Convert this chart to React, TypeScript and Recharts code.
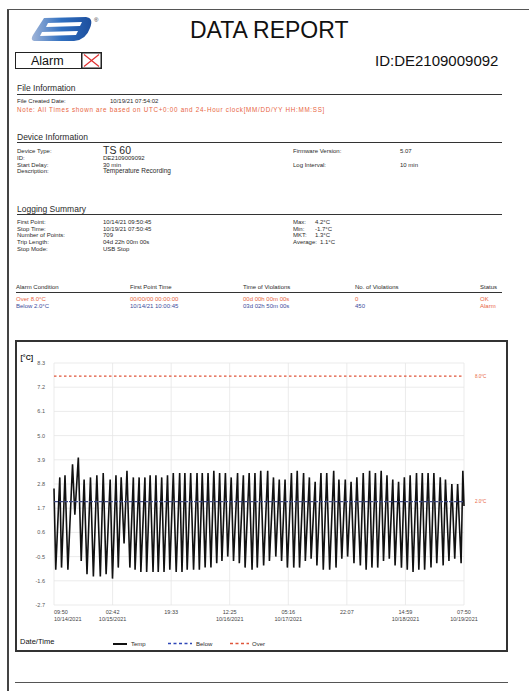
import { CartesianGrid, Line, LineChart, ReferenceLine, XAxis, YAxis } from "recharts";

// minutes after the first point (10/14/21 09:50:45), read at each peak / trough
const tempMinutes = [
  0, 30, 100, 130, 190, 240, 320, 360, 420, 470,
  520, 570, 630, 680, 740, 800, 850, 900, 970, 1010,
  1070, 1110, 1160, 1210, 1260, 1310, 1370, 1400, 1470, 1500,
  1570, 1600, 1660, 1710, 1760, 1800, 1860, 1900, 1960, 2000,
  2060, 2110, 2170, 2210, 2260, 2300, 2360, 2410, 2470, 2510,
  2560, 2610, 2660, 2710, 2760, 2810, 2860, 2900, 2960, 3000,
  3060, 3100, 3170, 3200, 3270, 3300, 3370, 3420, 3470, 3510,
  3570, 3620, 3690, 3720, 3790, 3830, 3890, 3930, 3990, 4030,
  4100, 4140, 4200, 4240, 4310, 4340, 4410, 4440, 4510, 4540,
  4610, 4650, 4710, 4760, 4830, 4870, 4920, 4970, 5030, 5070,
  5130, 5180, 5230, 5290, 5340, 5390, 5450, 5490, 5550, 5590,
  5650, 5690, 5750, 5790, 5850, 5890, 5950, 6000, 6050, 6100,
  6150, 6200, 6260, 6300, 6360, 6400, 6460, 6510, 6560, 6610,
  6670, 6720, 6760, 6820, 6870, 6920, 6970, 7030, 7060, 7080,
];

const tempValues = [
  2.6, -1.1, 3.1, -1.0, 3.2, -1.1, 3.7, 1.4, 4.0, -0.7,
  3.0, -1.3, 3.1, -1.4, 3.2, -1.4, 3.3, -1.3, 3.0, -1.5,
  3.2, -1.0, 3.1, 0.1, 3.4, -1.0, 3.1, -1.1, 3.1, -1.2,
  3.1, -1.2, 3.2, -1.2, 3.2, -1.2, 3.1, -1.2, 3.2, -1.1,
  3.3, -1.2, 3.3, -1.2, 3.3, -1.1, 3.3, -1.1, 3.3, -1.1,
  3.3, -1.0, 3.3, -1.0, 3.4, -0.8, 3.3, -0.7, 3.3, -0.5,
  3.1, -0.7, 3.3, -0.8, 3.2, -1.0, 3.3, -1.1, 3.3, -1.0,
  3.4, -0.9, 3.4, -0.7, 3.1, -0.5, 3.0, -0.7, 3.0, -1.0,
  3.3, -1.0, 3.4, -1.0, 3.3, -0.7, 3.1, -0.6, 2.9, -0.9,
  3.3, -1.1, 3.3, -1.1, 3.4, -1.0, 3.0, -0.6, 3.0, -0.5,
  2.9, -0.8, 3.1, -0.9, 3.3, -1.1, 3.4, -1.0, 3.3, -1.0,
  3.4, -0.7, 3.2, -0.6, 3.0, -0.9, 2.9, -1.0, 3.1, -1.1,
  3.2, -1.2, 3.3, -1.1, 3.3, -1.1, 3.3, -1.0, 3.3, -0.8,
  3.1, -0.9, 3.0, -0.7, 2.8, -0.6, 2.8, -0.8, 3.4, 1.8,
];

const yTicks = [-2.7, -1.6, -0.5, 0.6, 1.7, 2.8, 3.9, 5.0, 6.1, 7.2, 8.3];
const xTickMinutes = [0, 1012, 2023, 3034, 4046, 5057, 6069, 7080];
const xTickTimes = ["09:50", "02:42", "19:33", "12:25", "05:16", "22:07", "14:59", "07:50"];
const xTickDates = ["10/14/2021", "10/15/2021", "", "10/16/2021", "10/17/2021", "", "10/18/2021", "10/19/2021"];

const belowLimit = 2.0;
const overLimitDrawn = 7.7; // where the 8.0°C line sits in the picture

const deviceRows = [
  ["Device Type:", "TS 60"],
  ["ID:", "DE2109009092"],
  ["Start Delay:", "30 min"],
  ["Description:", "Temperature Recording"],
];
const summaryRows = [
  ["First Point:", "10/14/21 09:50:45"],
  ["Stop Time:", "10/19/21 07:50:45"],
  ["Number of Points:", "709"],
  ["Trip Length:", "04d 22h 00m 00s"],
  ["Stop Mode:", "USB Stop"],
];
const summaryStats = [
  ["Max:", "4.2°C"],
  ["Min:", "-1.7°C"],
  ["MKT:", "1.3°C"],
  ["Average:", "1.1°C"],
];
const alarmHeaders = ["Alarm Condition", "First Point Time", "Time of Violations", "No. of Violations", "Status"];
const alarmOver = ["Over 8.0°C", "00/00/00 00:00:00", "00d 00h 00m 00s", "0", "OK"];
const alarmBelow = ["Below 2.0°C", "10/14/21 10:00:45", "03d 02h 50m 00s", "450", "Alarm"];

const FONT = "'Liberation Sans', Arial, sans-serif";
const ORANGE = "#e8663f";
const BLUE = "#3d4c9c";
const TEXT = "#2a2a2a";
const alarmCols = [16, 130, 243, 355, 480];

function T({ x, y, size = 6, color = TEXT, bold = false, spacing = 0, children }: any) {
  return (
    <div
      style={{
        position: "absolute",
        left: x,
        top: y,
        transform: "translateY(-50%)",
        fontSize: size,
        lineHeight: 1,
        color,
        fontWeight: bold ? 700 : 400,
        letterSpacing: spacing,
        whiteSpace: "nowrap",
      }}
    >
      {children}
    </div>
  );
}

function HLine({ x, y, w, h = 1.2, color = "#333" }: any) {
  return <div style={{ position: "absolute", left: x, top: y, width: w, height: h, background: color }} />;
}

function XTick({ x, y, payload, index }: any) {
  const i = xTickMinutes.indexOf(payload.value);
  const anchor = index === 0 ? "start" : "middle";
  return (
    <g>
      <text x={x} y={y + 6.5} textAnchor={anchor} dominantBaseline="central" fontSize={5.5} fill="#444" fontFamily={FONT}>
        {xTickTimes[i]}
      </text>
      <text x={x} y={y + 13.5} textAnchor={anchor} dominantBaseline="central" fontSize={5.5} fill="#444" fontFamily={FONT}>
        {xTickDates[i]}
      </text>
    </g>
  );
}

function YTick({ x, y, payload }: any) {
  return (
    <text x={x - 9} y={y} textAnchor="end" dominantBaseline="central" fontSize={5.5} fill="#555" fontFamily={FONT}>
      {Number(payload.value).toFixed(1)}
    </text>
  );
}

function limitLabel(text: string) {
  return ({ viewBox }: any) => (
    <text
      x={viewBox.x + viewBox.width + 11}
      y={viewBox.y}
      dominantBaseline="central"
      fontSize={4.5}
      fill={ORANGE}
      fontFamily={FONT}
    >
      {text}
    </text>
  );
}

function Logo() {
  return (
    <svg width={70} height={30} style={{ position: "absolute", left: 30, top: 14 }}>
      <defs>
        <linearGradient id="lg" x1="0" y1="0" x2="1" y2="0">
          <stop offset="0" stopColor="#9fb4d8" />
          <stop offset="0.5" stopColor="#2f6fc0" />
          <stop offset="1" stopColor="#1d4f9e" />
        </linearGradient>
      </defs>
      <path d="M14 4 L56 3 Q64 4 60 14 Q56 26 44 27 L4 27 Q0 26 3 21 Z" fill="url(#lg)" />
      <path d="M18 9 L52 8 L50 12 L16 13 Z" fill="#fff" />
      <path d="M12 18 L48 17 L46 21 L10 22 Z" fill="#fff" />
      <text x={64} y={8} fontSize={6} fill="#333" fontFamily={FONT}>®</text>
    </svg>
  );
}

export default function App() {
  const data = tempMinutes.map((m, i) => ({ minute: m, temp: tempValues[i] }));

  return (
    <div style={{ position: "absolute", left: 0, top: 0, width: 529, height: 691, background: "#fff", fontFamily: FONT, overflow: "hidden" }}>
      {/* page frame */}
      <div style={{ position: "absolute", left: 7, top: 9, width: 1.5, height: 682, background: "#444" }} />
      <HLine x={7} y={9} w={522} h={1.2} color="#555" />

      <Logo />
      <T x={190} y={30} size={23} color="#111">DATA REPORT</T>

      {/* alarm badge */}
      <div style={{ position: "absolute", left: 15, top: 52, width: 67, height: 17, border: "1.5px solid #222", boxSizing: "border-box" }} />
      <T x={31} y={61} size={12.5} color="#111">Alarm</T>
      <svg width={21} height={17} style={{ position: "absolute", left: 81, top: 52 }}>
        <rect x={0.75} y={0.75} width={19.5} height={15.5} fill="none" stroke="#222" strokeWidth={1.5} />
        <line x1={3} y1={2.5} x2={18} y2={14.5} stroke="#e03030" strokeWidth={1.2} />
        <line x1={18} y1={2.5} x2={3} y2={14.5} stroke="#e03030" strokeWidth={1.2} />
      </svg>
      <T x={375} y={60} size={15} color="#111">ID:DE2109009092</T>

      {/* File Information */}
      <T x={17} y={88} size={8.5}>File Information</T>
      <HLine x={17} y={93.5} w={485} />
      <T x={17} y={101} size={6}>File Created Date:</T>
      <T x={110} y={101} size={6}>10/19/21 07:54:02</T>
      <T x={17} y={110} size={6.3} spacing={0.7} color={ORANGE}>
        Note: All Times shown are based on UTC+0:00 and 24-Hour clock[MM/DD/YY HH:MM:SS]
      </T>

      {/* Device Information */}
      <T x={17} y={137} size={8.5}>Device Information</T>
      <HLine x={17} y={141.5} w={485} />
      {deviceRows.map(([k, v], i) => (
        <div key={k}>
          <T x={17} y={151 + i * 6.8} size={6}>{k}</T>
          <T x={103} y={i === 0 ? 149.5 : 151 + i * 6.8} size={i === 0 ? 10.5 : i === 3 ? 6.5 : 6}>{v}</T>
        </div>
      ))}
      <T x={293} y={151} size={6}>Firmware Version:</T>
      <T x={400} y={151} size={6}>5.07</T>
      <T x={293} y={164.6} size={6}>Log Interval:</T>
      <T x={400} y={164.6} size={6}>10 min</T>

      {/* Logging Summary */}
      <T x={17} y={208.5} size={8.5}>Logging Summary</T>
      <HLine x={17} y={213.5} w={485} />
      {summaryRows.map(([k, v], i) => (
        <div key={k}>
          <T x={17} y={221.7 + i * 6.8} size={6}>{k}</T>
          <T x={103} y={221.7 + i * 6.8} size={6}>{v}</T>
        </div>
      ))}
      {summaryStats.map(([k, v], i) => (
        <div key={k}>
          <T x={293} y={221.7 + i * 6.8} size={6}>{k}</T>
          <T x={i === 3 ? 320 : 315} y={221.7 + i * 6.8} size={6}>{v}</T>
        </div>
      ))}

      {/* Alarm table */}
      {alarmHeaders.map((h, i) => (
        <T key={h} x={alarmCols[i]} y={287} size={6}>{h}</T>
      ))}
      <HLine x={16} y={291.5} w={486} />
      {alarmOver.map((v, i) => (
        <T key={"o" + i} x={alarmCols[i]} y={299} size={6} color={ORANGE}>{v}</T>
      ))}
      {alarmBelow.map((v, i) => (
        <T key={"b" + i} x={alarmCols[i]} y={306} size={6} color={i === 4 ? ORANGE : BLUE}>{v}</T>
      ))}

      {/* chart box */}
      <div style={{ position: "absolute", left: 15, top: 340, width: 493, height: 312, border: "2px solid #333", boxSizing: "border-box" }}>
        <LineChart width={489} height={308} data={data} margin={{ top: 21, right: 42, left: 0, bottom: 0 }}>
          <CartesianGrid stroke="#e6e6e6" strokeWidth={0.8} />
          <XAxis
            dataKey="minute"
            type="number"
            domain={[0, 7080]}
            ticks={xTickMinutes}
            tick={<XTick />}
            tickSize={0}
            tickMargin={0}
            axisLine={false}
            tickLine={false}
            height={45}
            interval={0}
          />
          <YAxis
            type="number"
            domain={[-2.7, 8.3]}
            ticks={yTicks}
            tick={<YTick />}
            tickSize={0}
            tickMargin={0}
            axisLine={false}
            tickLine={false}
            width={37}
            interval={0}
            allowDataOverflow
          />
          <ReferenceLine y={overLimitDrawn} stroke="#e0553a" strokeDasharray="2.5 2.5" strokeWidth={1.2} label={limitLabel("8.0°C")} />
          <Line type="linear" dataKey="temp" stroke="#111" strokeWidth={1.6} dot={false} isAnimationActive={false} />
          <ReferenceLine y={belowLimit} stroke="#3a4680" strokeDasharray="4 1" strokeWidth={1.1} label={limitLabel("2.0°C")} />
        </LineChart>
      </div>

      {/* axis title, legend */}
      <T x={20.5} y={356.5} size={7} bold color="#222">[°C]</T>
      <T x={20} y={641.5} size={7.5} color="#111">Date/Time</T>
      <HLine x={113} y={643} w={14} h={1.8} color="#111" />
      <T x={131} y={643.5} size={6}>Temp</T>
      <svg width={24} height={3} style={{ position: "absolute", left: 168, top: 642 }}>
        <line x1={0} y1={1.5} x2={24} y2={1.5} stroke="#2f47b8" strokeWidth={1.3} strokeDasharray="3 2.5" />
      </svg>
      <T x={196} y={643.5} size={6}>Below</T>
      <svg width={19} height={3} style={{ position: "absolute", left: 230, top: 642 }}>
        <line x1={0} y1={1.5} x2={19} y2={1.5} stroke="#e0553a" strokeWidth={1.3} strokeDasharray="3 2.5" />
      </svg>
      <T x={252} y={643.5} size={6}>Over</T>

      <HLine x={15} y={681.5} w={493} h={1.5} color="#555" />
    </div>
  );
}
